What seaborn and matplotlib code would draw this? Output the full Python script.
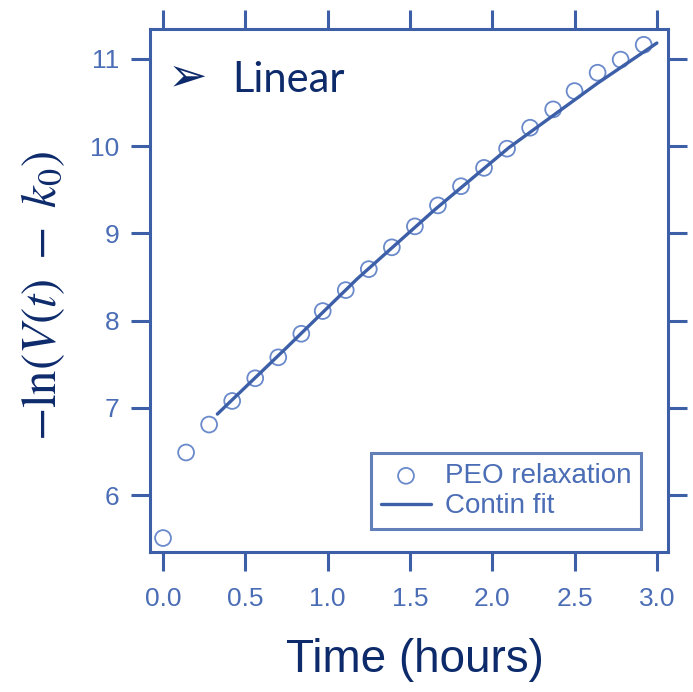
import numpy as np
import pandas as pd
import matplotlib
matplotlib.use("Agg")
import matplotlib.pyplot as plt
import seaborn as sns

# Data
time_hours = [0.00, 0.14, 0.28, 0.42, 0.56, 0.70, 0.84, 0.97, 1.11, 1.25, 1.39,
              1.53, 1.67, 1.81, 1.95, 2.09, 2.23, 2.37, 2.50, 2.64, 2.78, 2.92]
relaxation = [5.51, 6.49, 6.81, 7.08, 7.34, 7.58, 7.85, 8.11, 8.35, 8.59, 8.84,
              9.08, 9.32, 9.54, 9.75, 9.97, 10.21, 10.42, 10.63, 10.84, 10.99, 11.16]

fit_time = [0.33, 0.75, 1.18, 1.65, 2.10, 2.64, 3.00]
fit_value = [6.93, 7.69, 8.48, 9.27, 9.98, 10.72, 11.18]

x_ticks = [0.0, 0.5, 1.0, 1.5, 2.0, 2.5, 3.0]
y_ticks = [6, 7, 8, 9, 10, 11]

blue = "#3c5fa8"
navy = "#0d2a6b"
tick_col = "#4a6db5"
marker_col = "#6a8acb"

sns.set_style("white")
plt.rcParams["font.family"] = ["Liberation Sans", "DejaVu Sans"]
plt.rcParams["mathtext.fontset"] = "stix"

df = pd.DataFrame({"t": time_hours, "v": relaxation})
fit = pd.DataFrame({"t": fit_time, "v": fit_value})

fig = plt.figure(figsize=(6.93, 6.92), dpi=100)
ax = fig.add_axes([0.2165, 0.2023, 0.7475, 0.7557])

sns.scatterplot(data=df, x="t", y="v", ax=ax, marker="o", s=130,
                facecolor="none", edgecolor=marker_col, linewidth=1.3,
                label="PEO relaxation", zorder=3)
sns.lineplot(data=fit, x="t", y="v", ax=ax, color=blue, linewidth=2.4,
             label="Contin fit", zorder=4)

ax.set_xlim(-0.079, 3.068)
ax.set_ylim(5.35, 11.34)
ax.set_xticks(x_ticks)
ax.set_xticklabels([f"{v:.1f}" for v in x_ticks])
ax.set_yticks(y_ticks)

for sp in ax.spines.values():
    sp.set_visible(True)
    sp.set_color(blue)
    sp.set_linewidth(2.2)

ax.tick_params(axis="both", direction="out", color=blue, width=2.2,
               labelcolor=tick_col, labelsize=19)
ax.tick_params(axis="x", bottom=True, top=True, length=14, pad=11)
ax.tick_params(axis="y", left=True, right=True, length=14, pad=8)

ax.set_xlabel("Time (hours)", fontsize=33, color=navy)
ax.xaxis.set_label_coords(0.511, -0.165)
ax.set_ylabel(r"$-\mathrm{ln}(V(t)\ -\ k_0)$", fontsize=35, color=navy)
ax.yaxis.set_label_coords(-0.16, 0.49)

ax.text(0.072, 0.907, "\u27a2", transform=ax.transAxes, fontsize=34,
        color=navy, ha="center", va="center", family=["DejaVu Sans"])
ax.text(0.158, 0.88, "Linear", transform=ax.transAxes, fontsize=30,
        color=navy, ha="left", va="baseline", family=["Lato", "DejaVu Sans"])

leg = ax.legend(loc="lower right", bbox_to_anchor=(0.948, 0.044),
                borderaxespad=0, fontsize=20, frameon=True, fancybox=False,
                edgecolor=blue, handlelength=1.8, handletextpad=0.5,
                labelspacing=0.15, borderpad=0.35)
leg.get_frame().set_linewidth(2.2)
for txt in leg.get_texts():
    txt.set_color(tick_col)

fig.savefig("out.png", dpi=100, facecolor="white")
